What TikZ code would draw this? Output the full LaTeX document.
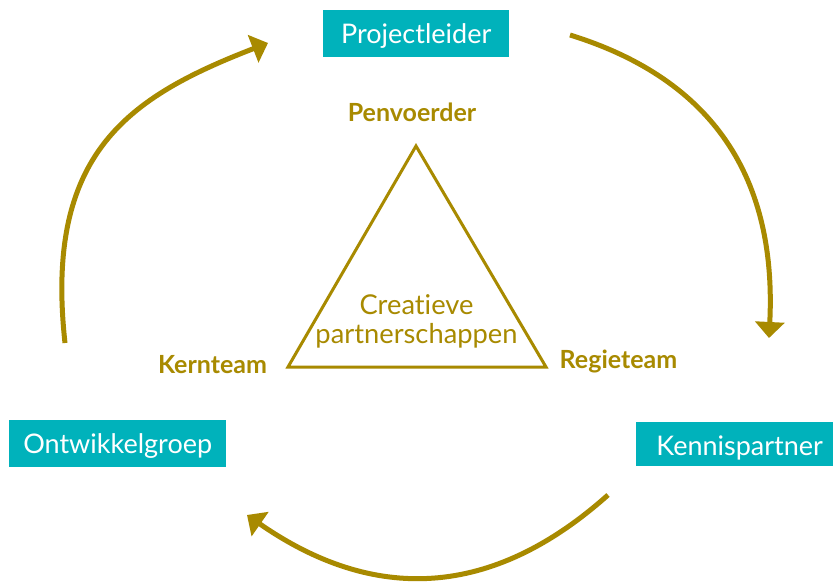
\documentclass[tikz,border=0pt]{standalone}
\usepackage{fontspec}
\setmainfont{Lato}[Ligatures={NoCommon,NoRare}]
\usetikzlibrary{arrows.meta}
\definecolor{olive}{RGB}{168,138,0}
\definecolor{teal}{RGB}{0,178,187}
\tikzset{
  rolebox/.style={fill=teal, text=white, inner sep=0pt, anchor=north west,
    font=\fontsize{27}{31}\selectfont, text height=33pt},
  rolelabel/.style={text=olive, inner sep=0pt, anchor=base,
    font=\fontsize{25}{29}\selectfont\bfseries},
  centertext/.style={text=olive, inner sep=0pt, anchor=base,
    font=\fontsize{27.3}{31}\selectfont},
  cyclearrow/.style={draw=olive, line width=5pt,
    -{Triangle[length=16pt,width=29pt]}},
  tri/.style={draw=olive, line width=3pt, line join=miter}
}
\begin{document}
\begin{tikzpicture}[x=1pt,y=-1pt]
\clip (0,0) rectangle (833,583);
\fill[white] (0,0) rectangle (833,583);
% boxes
\node[rolebox, minimum width=186pt, text depth=14pt] (pl) at (323,10) {Projectleider};
\node[rolebox, minimum width=217pt, text depth=14pt] (og) at (9,420) {Ontwikkelgroep};
\node[rolebox, minimum width=207pt, text depth=11pt] (kp) at (636,422) {Kennispartner};
% triangle
\coordinate (ta) at (416,146);
\coordinate (tl) at (288,367);
\coordinate (tr) at (546,367);
\draw[tri] (ta) -- (tl) -- (tr) -- cycle;
\node[rolelabel] (pv) at (412,121.7) {Penvoerder};
\node[rolelabel] (kt) at (212.5,373) {Kernteam};
\node[rolelabel] (rt) at (618.5,368) {Regieteam};
\node[centertext] (c1) at (416.5,314) {Creatieve};
\node[centertext] (c2) at (416.5,343) {partnerschappen};
% arrows
\coordinate (a1s) at (65,343);
\coordinate (a1e) at (268,43);
\coordinate (a2s) at (570,35);
\coordinate (a2e) at (769,338);
\coordinate (a3s) at (608,495);
\coordinate (a3e) at (247,515);
\draw[cyclearrow] (a1s) .. controls (44.1,153) and (128.5,97) .. (a1e);
\draw[cyclearrow] (a2s) .. controls (703.7,76.4) and (777.5,168) .. (a2e);
\draw[cyclearrow] (a3s) .. controls (491.75,598.85) and (374.1,603.35) .. (a3e);
\end{tikzpicture}
\end{document}
